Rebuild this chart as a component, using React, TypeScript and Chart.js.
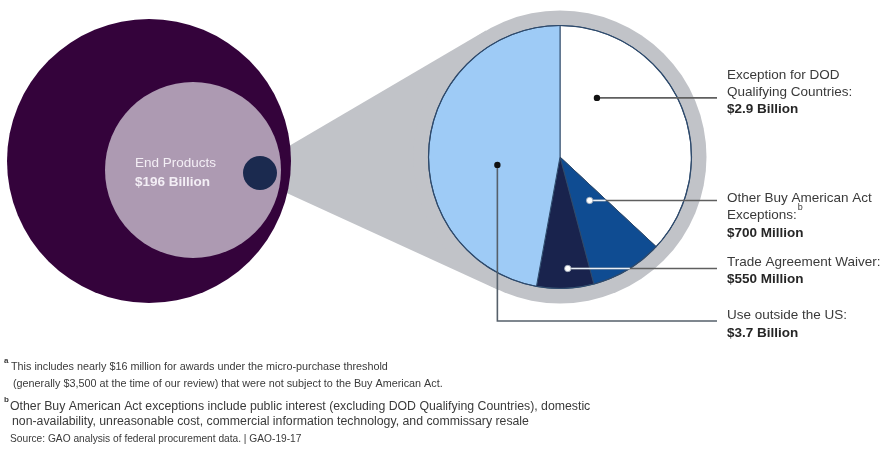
import React, { useEffect, useRef } from "react";
import { Chart, registerables } from "chart.js";

Chart.register(...registerables);

// ---------- data ----------
const categories = [
  "Exception for DOD Qualifying Countries",
  "Other Buy American Act Exceptions",
  "Trade Agreement Waiver",
  "Use outside the US",
];
const valuesBillion = [2.9, 0.7, 0.55, 3.7];
const valueLabels = ["$2.9 Billion", "$700 Million", "$550 Million", "$3.7 Billion"];
const calloutLines = [
  ["Exception for DOD", "Qualifying Countries:"],
  ["Other Buy American Act", "Exceptions:"],
  ["Trade Agreement Waiver:"],
  ["Use outside the US:"],
];
const calloutSup = ["", "b", "", ""];
const sliceColors = ["#ffffff", "#0f4c92", "#19234d", "#9ecbf6"];
const endProductsLabel = "End Products";
const endProductsValue = "$196 Billion";
const footnoteA = [
  "This includes nearly $16 million for awards under the micro-purchase threshold",
  "(generally $3,500 at the time of our review) that were not subject to the Buy American Act.",
];
const footnoteB = [
  "Other Buy American Act exceptions include public interest (excluding DOD Qualifying Countries), domestic",
  "non-availability, unreasonable cost, commercial information technology, and commissary resale",
];
const sourceNote = "Source: GAO analysis of federal procurement data. | GAO-19-17";

// ---------- layout / style ----------
const FONT = "'Liberation Sans', Arial, sans-serif";
const GREY = "#c1c3c8";
const OUTER = { x: 149, y: 161, r: 142, color: "#34033b" };
const INNER = { x: 193, y: 170, r: 88, color: "#ad9ab2" };
const DOT = { x: 260, y: 173, r: 17, color: "#1b2a4f" };
// anchor of each callout inside its slice: angle from 12 o'clock (deg), fraction of radius
const anchors = [
  { a: 32, f: 0.53, light: false },
  { a: 145.7, f: 0.4, light: true },
  { a: 176, f: 0.85, light: true },
  { a: 262.8, f: 0.48, light: false },
];
const lineEndX = 717;
const textX = 727;
const textRows = [
  [75, 92, 109],
  [198, 215, 233],
  [262, 279],
  [315, 333],
];
const useOutsideLineY = 321;

const decorPlugin = {
  id: "decor",
  beforeDatasetsDraw(chart: any) {
    const ctx = chart.ctx as CanvasRenderingContext2D;
    const arc = chart.getDatasetMeta(0).data[0];
    const cx = arc.x, cy = arc.y, R = arc.outerRadius;
    const ringR = R + 15;
    ctx.save();
    // cone: apex at the left edge of the small dot, tangent to the ring
    const ax = DOT.x - DOT.r, ay = DOT.y;
    const dx = cx - ax, dy = cy - ay;
    const d = Math.hypot(dx, dy);
    const base = Math.atan2(dy, dx);
    const half = Math.asin(ringR / d);
    const len = Math.sqrt(d * d - ringR * ringR);
    ctx.fillStyle = GREY;
    ctx.beginPath();
    ctx.moveTo(ax, ay);
    ctx.lineTo(ax + len * Math.cos(base - half), ay + len * Math.sin(base - half));
    ctx.lineTo(cx, cy);
    ctx.lineTo(ax + len * Math.cos(base + half), ay + len * Math.sin(base + half));
    ctx.closePath();
    ctx.fill();
    ctx.beginPath();
    ctx.arc(cx, cy, ringR, 0, Math.PI * 2);
    ctx.fill();
    // left circles
    for (const c of [OUTER, INNER, DOT]) {
      ctx.fillStyle = c.color;
      ctx.beginPath();
      ctx.arc(c.x, c.y, c.r, 0, Math.PI * 2);
      ctx.fill();
    }
    ctx.fillStyle = "#f3eef5";
    ctx.textBaseline = "middle";
    ctx.textAlign = "left";
    ctx.font = `13.5px ${FONT}`;
    ctx.fillText(endProductsLabel, 135, 163);
    ctx.font = `bold 13.5px ${FONT}`;
    ctx.fillText(endProductsValue, 135, 182);
    ctx.restore();
  },
  afterDatasetsDraw(chart: any) {
    const ctx = chart.ctx as CanvasRenderingContext2D;
    const arcs = chart.getDatasetMeta(0).data;
    const cx = arcs[0].x, cy = arcs[0].y, R = arcs[0].outerRadius;
    ctx.save();
    // pie outline
    ctx.strokeStyle = "#2e4a6c";
    ctx.lineWidth = 1.2;
    ctx.beginPath();
    ctx.arc(cx, cy, R, 0, Math.PI * 2);
    ctx.stroke();

    anchors.forEach((an, i) => {
      const rad = (an.a * Math.PI) / 180;
      const px = cx + an.f * R * Math.sin(rad);
      const py = cy - an.f * R * Math.cos(rad);
      ctx.lineWidth = 1.6;
      ctx.strokeStyle = i === 3 ? "#56606b" : "#5f5f5f";
      ctx.beginPath();
      ctx.moveTo(px, py);
      if (i === 3) {
        ctx.lineTo(px, useOutsideLineY);
        ctx.lineTo(lineEndX, useOutsideLineY);
      } else {
        ctx.lineTo(lineEndX, py);
      }
      ctx.stroke();
      if (an.light) {
        // white segment while inside dark slices
        let x = px;
        while (x < lineEndX) {
          const inDark = arcs[1].inRange(x + 1, py) || arcs[2].inRange(x + 1, py);
          if (!inDark) break;
          x += 1;
        }
        ctx.strokeStyle = "#e8eef6";
        ctx.beginPath();
        ctx.moveTo(px, py);
        ctx.lineTo(x, py);
        ctx.stroke();
      }
      ctx.beginPath();
      ctx.arc(px, py, 3.2, 0, Math.PI * 2);
      ctx.fillStyle = an.light ? "#ffffff" : "#111111";
      ctx.fill();
      if (an.light) {
        ctx.strokeStyle = "#9aa6b5";
        ctx.lineWidth = 0.8;
        ctx.stroke();
      }
      // texts
      const rows = textRows[i];
      ctx.textAlign = "left";
      ctx.textBaseline = "middle";
      ctx.fillStyle = "#3a3a3a";
      ctx.font = `13.5px ${FONT}`;
      calloutLines[i].forEach((s, k) => {
        ctx.fillText(s, textX, rows[k]);
        if (k === calloutLines[i].length - 1 && calloutSup[i]) {
          const w = ctx.measureText(s).width;
          ctx.font = `9px ${FONT}`;
          ctx.fillText(calloutSup[i], textX + w + 1, rows[k] - 7);
          ctx.font = `13.5px ${FONT}`;
        }
      });
      ctx.font = `bold 13.5px ${FONT}`;
      ctx.fillStyle = "#262626";
      ctx.fillText(valueLabels[i], textX, rows[rows.length - 1]);
    });

    // footnotes
    ctx.fillStyle = "#3a3a3a";
    ctx.textBaseline = "middle";
    ctx.font = `bold 8px ${FONT}`;
    ctx.fillText("a", 4, 361);
    ctx.fillText("b", 4, 400);
    ctx.font = `10.8px ${FONT}`;
    ctx.fillText(footnoteA[0], 11, 367);
    ctx.fillText(footnoteA[1], 13, 384);
    ctx.font = `12.3px ${FONT}`;
    ctx.fillText(footnoteB[0], 10, 407);
    ctx.fillText(footnoteB[1], 12, 422);
    ctx.font = `10.2px ${FONT}`;
    ctx.fillText(sourceNote, 10, 439);
    ctx.restore();
  },
};

export default function App() {
  const ref = useRef<HTMLCanvasElement | null>(null);
  useEffect(() => {
    if (!ref.current) return;
    const chart = new Chart(ref.current, {
      type: "pie",
      data: {
        labels: categories,
        datasets: [
          {
            data: valuesBillion,
            backgroundColor: sliceColors,
            borderColor: "#2e4a6c",
            borderWidth: 1,
          },
        ],
      },
      options: {
        animation: false,
        responsive: false,
        devicePixelRatio: 1,
        layout: { padding: { left: 428, right: 191, top: 25, bottom: 164 } },
        plugins: { legend: { display: false }, tooltip: { enabled: false } },
        events: [],
      },
      plugins: [decorPlugin],
    });
    return () => chart.destroy();
  }, []);
  return (
    <div style={{ position: "absolute", left: 0, top: 0, width: 883, height: 453, background: "#ffffff" }}>
      <canvas ref={ref} width={883} height={453} style={{ width: 883, height: 453, display: "block" }} />
    </div>
  );
}
